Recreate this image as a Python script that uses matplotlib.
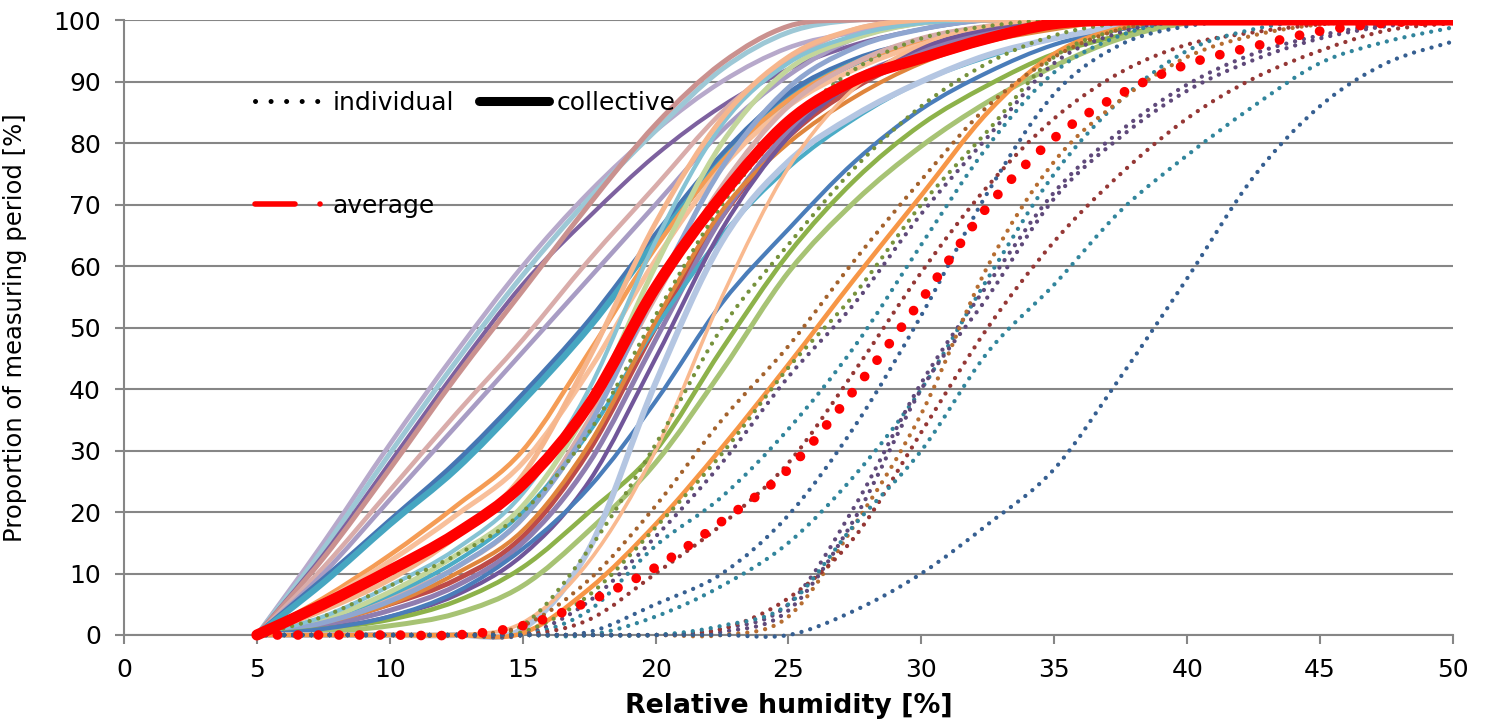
import matplotlib
matplotlib.use("Agg")
import numpy as np
import matplotlib.pyplot as plt
from matplotlib.lines import Line2D
from matplotlib.patches import PathPatch, Rectangle
from matplotlib.path import Path

plt.rcParams["font.family"] = ["DejaVu Sans"]

# relative humidity grid [%]
rh = [5, 7.5, 10, 12.5, 15, 17.5, 20, 22.5, 25, 27.5, 30, 32.5, 35, 37.5, 40, 42.5, 45, 47.5, 50]

# collective (solid) cumulative curves
col_a1 = [0, 15, 31, 46, 60, 72, 82, 90, 95.5, 98, 99.5, 100, 100, 100, 100, 100, 100, 100, 100]
col_a2 = [0, 14, 29.5, 44.5, 58.5, 71, 82, 92, 98, 100, 100, 100, 100, 100, 100, 100, 100, 100, 100]
col_a3 = [0, 13, 28, 43, 57, 68, 78, 86, 92, 96, 98.5, 100, 100, 100, 100, 100, 100, 100, 100]
col_a4 = [0, 12.5, 27, 42, 56, 70, 83, 93, 99, 100, 100, 100, 100, 100, 100, 100, 100, 100, 100]
col_a5 = [0, 11, 23.5, 36, 48, 61, 73, 85, 93.5, 98.5, 100, 100, 100, 100, 100, 100, 100, 100, 100]
col_a6 = [0, 10, 22, 34, 46, 58, 70, 82, 91, 97, 99.5, 100, 100, 100, 100, 100, 100, 100, 100]
col_b1 = [0, 9, 18.5, 28, 39, 51, 65, 78, 88, 93.5, 96.5, 98.5, 99.5, 100, 100, 100, 100, 100, 100]
col_b2 = [0, 8.5, 18, 27, 38, 50, 64, 77, 87, 93, 96.5, 98.5, 100, 100, 100, 100, 100, 100, 100]
col_c1 = [0, 6, 13, 21, 30, 46, 63, 77, 87, 93, 96.5, 98.5, 100, 100, 100, 100, 100, 100, 100]
col_c2 = [0, 5.5, 12, 19.5, 28, 43, 61, 76, 86, 92, 96, 98.5, 100, 100, 100, 100, 100, 100, 100]
col_d1 = [0, 2, 5, 9, 16, 30, 50, 68, 81, 89, 94, 97, 99, 100, 100, 100, 100, 100, 100]
col_d2 = [0, 2.5, 6, 11, 19, 35, 55, 73, 86, 93, 97, 99, 100, 100, 100, 100, 100, 100, 100]
col_d3 = [0, 1.5, 4, 8, 15, 28, 48, 68, 82, 90.5, 95, 98, 99.5, 100, 100, 100, 100, 100, 100]
col_d4 = [0, 2.5, 6.5, 12, 20, 33, 50, 65, 76, 84, 90, 94, 97, 99, 100, 100, 100, 100, 100]
col_d5 = [0, 2, 5, 10, 17, 31, 51, 69, 80, 87.5, 93, 96.5, 98.5, 100, 100, 100, 100, 100, 100]
col_d6 = [0, 1, 3, 6.5, 13, 25, 45, 66, 81, 90, 95.5, 98.5, 100, 100, 100, 100, 100, 100, 100]
col_d7 = [0, 2.5, 7, 13, 21, 37, 60, 80, 92, 97, 99.5, 100, 100, 100, 100, 100, 100, 100, 100]
col_d8 = [0, 2, 5.5, 11, 19, 34, 56, 76, 89, 95.5, 98.5, 100, 100, 100, 100, 100, 100, 100, 100]
col_d9 = [0, 3, 8, 14, 23, 40, 64, 83, 93, 97.5, 99.5, 100, 100, 100, 100, 100, 100, 100, 100]
col_d10 = [0, 4, 9, 16, 26, 45, 67, 84, 94, 98.5, 100, 100, 100, 100, 100, 100, 100, 100, 100]
col_e1 = [0, 1, 2.5, 5.5, 11, 20, 30, 46.5, 62, 74, 83, 89.4, 94.5, 97.5, 99.5, 100, 100, 100, 100]
col_e2 = [0, 0.5, 1.5, 3.5, 8, 17, 28, 43, 59, 70.5, 79.5, 86.7, 92.5, 97, 99.5, 100, 100, 100, 100]
col_e3 = [0, 1, 3, 7, 14, 24, 38, 54, 66, 77, 85.5, 91.5, 96, 98.5, 100, 100, 100, 100, 100]
col_f1 = [0, 0, 0, 0, 1, 14, 41, 64, 77, 84.5, 90, 94.3, 97, 99, 100, 100, 100, 100, 100]
col_f2 = [0, 0, 0, 0, 2, 12, 30, 55, 76, 89, 96, 99, 100, 100, 100, 100, 100, 100, 100]
col_orange = [0, 0, 0, 0, 0.3, 7.5, 18, 30.5, 44, 58, 71.5, 85, 94.5, 98.7, 100, 100, 100, 100, 100]

# individual (dotted) cumulative curves
ind_1 = [0, 3, 8, 13, 20, 33, 52, 70, 83, 92, 97, 99, 100, 100, 100, 100, 100, 100, 100]
ind_2 = [0, 0, 0, 0, 1.6, 14, 31, 50, 63.5, 76, 86, 93, 97.5, 99.5, 100, 100, 100, 100, 100]
ind_3 = [0, 0, 0, 0, 1.5, 9, 21, 35, 47, 61, 74, 86, 94, 98.5, 100, 100, 100, 100, 100]
ind_4 = [0, 0, 0, 0, 0.5, 6.5, 17.5, 29.5, 43.5, 55.5, 70, 82, 94, 98.5, 100, 100, 100, 100, 100]
ind_5 = [0, 0, 0, 0, 0, 5.5, 16, 28, 42, 54, 68.5, 81, 93, 98, 100, 100, 100, 100, 100]
ind_6 = [0, 0, 0, 0, 0, 4, 14.5, 22.5, 33.5, 47, 63.5, 79.5, 91.5, 97.5, 100, 100, 100, 100, 100]
ind_7 = [0, 0, 0, 0, 0, 2.5, 10, 18, 28, 43, 59, 73, 84, 91.5, 96, 98, 99.3, 100, 100]
ind_8 = [0, 0, 0, 0, 0, 0.5, 5, 10, 19.5, 34, 52, 72, 88, 96, 99, 100, 100, 100, 100]
ind_9 = [0, 0, 0, 0, 0, 0, 3, 8, 15, 26, 40, 58, 75, 87, 95, 98.5, 100, 100, 100]
ind_10 = [0, 0, 0, 0, 0, 0, 0, 0.5, 4, 19, 40, 55, 71, 81, 88.5, 93.5, 97, 99, 100]
ind_11 = [0, 0, 0, 0, 0, 0, 0, 1, 5, 21, 41, 57, 72, 82, 89.5, 94.5, 97.5, 99.3, 100]
ind_12 = [0, 0, 0, 0, 0, 0, 0, 0, 3, 18, 36, 60, 77, 87, 94, 97.5, 99.3, 100, 100]
ind_13 = [0, 0, 0, 0, 0, 0, 0, 1, 6, 16, 33, 50, 64, 75, 84, 90.5, 95, 98.3, 99.5]
ind_14 = [0, 0, 0, 0, 0, 0, 0, 1.5, 5, 18, 30, 46, 57, 69, 78, 86, 93, 96.5, 98.8]
ind_15 = [0, 0, 0, 0, 0, 0, 0, 0, 0, 4, 10, 18, 27, 42, 58, 74.5, 86, 93, 96.5]

avg_collective = [0, 5, 10.5, 16.5, 24.5, 37.5, 56.5, 71.5, 83.5, 90.2, 93.8, 97, 99.4, 100, 100, 100, 100, 100, 100]
avg_individual = [0, 0, 0, 0, 1.5, 5.5, 11, 18.5, 27, 40, 54.5, 69.7, 80.8, 88, 92.8, 95.7, 98.2, 99.5, 100]

collective = [
    (col_a1, "#B7A9CB", 3.3), (col_a2, "#9DC8D6", 3.6), (col_a3, "#7D619F", 3.0),
    (col_a4, "#CA918F", 3.6), (col_a5, "#D9ACAA", 3.3), (col_a6, "#A89CC4", 3.3),
    (col_b1, "#4676B3", 4.5), (col_b2, "#46A6C1", 4.5), (col_c1, "#F59C55", 3.3),
    (col_c2, "#F8BF9A", 3.6), (col_d1, "#BE4B48", 3.6), (col_d2, "#D7ADAB", 3.6),
    (col_d3, "#8F7DB0", 3.6), (col_d4, "#4BACC6", 3.0), (col_d5, "#E0853C", 3.0),
    (col_d6, "#71569A", 3.0), (col_d7, "#C3D69B", 3.6), (col_d8, "#8FA6D0", 3.6),
    (col_d9, "#86C3D4", 3.0), (col_d10, "#F6B68D", 3.6), (col_e1, "#8DB24A", 3.3),
    (col_e2, "#A7C374", 3.6), (col_e3, "#4A7DBA", 3.0), (col_f1, "#B4C6E2", 4.3),
    (col_f2, "#F9B98F", 2.6), (col_orange, "#F79646", 3.3),
]

individual = [
    (ind_1, "#76923C"), (ind_2, "#76923C"), (ind_3, "#A4622C"), (ind_4, "#77933C"),
    (ind_5, "#5F497A"), (ind_6, "#31859C"), (ind_7, "#953735"), (ind_8, "#376092"),
    (ind_9, "#31859C"), (ind_10, "#5F497A"), (ind_11, "#604A7B"), (ind_12, "#B66D31"),
    (ind_13, "#953735"), (ind_14, "#31859C"), (ind_15, "#365F91"),
]

grid_col = "#868686"
dot_style = (0, (0.01, 2.1))


def smoothed(xs, ys):
    # Excel-style "smoothed line": bezier segments through the data points
    pts = np.column_stack([xs, ys]).astype(float)
    n = len(pts)
    verts = [pts[0]]
    codes = [Path.MOVETO]
    for i in range(n - 1):
        p0 = pts[max(i - 1, 0)]
        p1 = pts[i]
        p2 = pts[i + 1]
        p3 = pts[min(i + 2, n - 1)]
        verts += [p1 + (p2 - p0) / 6, p2 - (p3 - p1) / 6, p2]
        codes += [Path.CURVE4] * 3
    return Path(verts, codes)


fig = plt.figure(figsize=(14.86, 7.27), dpi=100)
ax = fig.add_axes([124 / 1486, 92 / 727, 1329 / 1486, 615 / 727])

clip = Rectangle((0, -3), 50, 103, transform=ax.transData, facecolor="none", edgecolor="none")
ax.add_patch(clip)


def draw(ys, color, lw, style, z):
    p = PathPatch(smoothed(rh, ys), facecolor="none", edgecolor=color, lw=lw,
                  linestyle=style, capstyle="round", joinstyle="round", zorder=z)
    ax.add_patch(p)
    p.set_clip_path(clip)


for ys, color, lw in collective:
    draw(ys, color, lw, "-", 3)
for ys, color in individual:
    draw(ys, color, 3.1, dot_style, 4)
draw(avg_collective, "#FF0000", 8, "-", 5)
draw(avg_individual, "#FF0000", 7, dot_style, 6)

ax.set_xlim(0, 50)
ax.set_ylim(0, 100)
ax.set_xticks(range(0, 51, 5))
ax.set_yticks(range(0, 101, 10))
ax.yaxis.grid(True, color=grid_col, lw=1.5)
ax.set_axisbelow(True)
for side in ("top", "right"):
    ax.spines[side].set_visible(False)
for side in ("left", "bottom"):
    ax.spines[side].set_color(grid_col)
    ax.spines[side].set_linewidth(1.5)
ax.tick_params(axis="both", direction="out", length=6.5, width=1.5, color=grid_col,
               labelsize=18, pad=10)

ax.set_xlabel("Relative humidity [%]", fontsize=19.3, fontweight="bold", labelpad=8)
ax.set_ylabel("Proportion of measuring period [%]", fontsize=17.5)
ax.yaxis.set_label_coords(-0.073, 0.5)

h_ind = Line2D([], [], color="black", lw=3.6, linestyle=(0, (0.01, 3.1)), dash_capstyle="round")
h_col = Line2D([], [], color="black", lw=6.5, solid_capstyle="round")
h_avg = Line2D([], [], color="#FF0000", lw=4, linestyle=(0, (7.2, 4.5, 0.01, 10)),
               dash_capstyle="round")
fig.legend([h_ind, h_avg, h_col], ["individual", "average", "collective"],
           loc="upper left", bbox_to_anchor=(255 / 1486, 1 - 91 / 727), ncol=2,
           frameon=False, fontsize=18, handlelength=2.8, handletextpad=0.3,
           columnspacing=1.0, labelspacing=3.14, borderpad=0, borderaxespad=0)

fig.savefig("out.png", dpi=100)
